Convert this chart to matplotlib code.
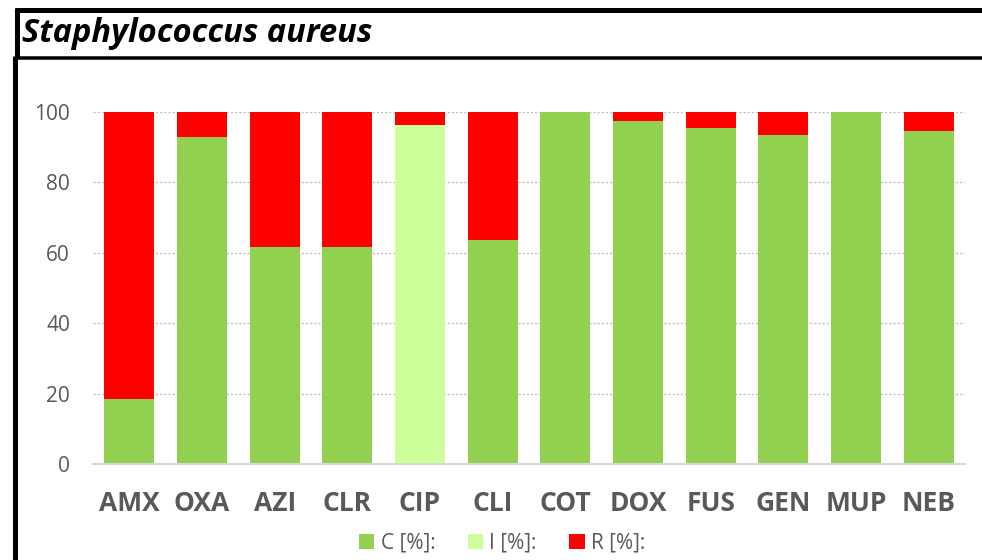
import matplotlib.pyplot as plt
from matplotlib.lines import Line2D
from matplotlib.patches import Patch
import numpy as np

W, H = 982, 560

# データ
drugs = ['AMX', 'OXA', 'AZI', 'CLR', 'CIP', 'CLI', 'COT', 'DOX', 'FUS', 'GEN', 'MUP', 'NEB']
c_pct = [18.5, 92.9, 61.6, 61.6, 0, 63.6, 100, 97.5, 95.5, 93.6, 100, 94.5]
i_pct = [0, 0, 0, 0, 96.3, 0, 0, 0, 0, 0, 0, 0]
r_pct = [81.5, 7.1, 38.4, 38.4, 3.7, 36.4, 0, 2.5, 4.5, 6.4, 0, 5.5]
series_names = ['C [%]:', 'I [%]:', 'R [%]:']
colors = ['#92D050', '#CCFF99', '#FF0000']
yticks = [0, 20, 40, 60, 80, 100]

plt.rcParams['font.family'] = ['Open Sans', 'DejaVu Sans']

fig = plt.figure(figsize=(W / 100, H / 100), dpi=100)

# 枠線 (pixel -> figure座標)
def fx(px):
    return px / W

def fy(py):
    return 1 - py / H

frame = [
    ((17, 17), (8, 58), 5),      # title left
    ((15, 982), (10, 10), 5),    # title top
    ((15, 982), (57.5, 57.5), 3.5),  # title bottom
    ((15, 15), (56, 560), 5),    # chart left
]
for xs, ys, lw in frame:
    fig.add_artist(Line2D([fx(x) for x in xs], [fy(y) for y in ys], color='black',
                          linewidth=lw * 0.72, solid_capstyle='butt'))

fig.text(fx(22), fy(34), 'Staphylococcus aureus', fontsize=23.5, fontweight='bold',
         fontstyle='italic', va='center', ha='left', color='black')

ax = fig.add_axes([fx(93), fy(464), (965 - 93) / W, (464 - 112) / H])
x = np.arange(len(drugs))
bw = 0.69
bottom = np.zeros(len(drugs))
for vals, col in zip([c_pct, i_pct, r_pct], colors):
    ax.bar(x, vals, bw, bottom=bottom, color=col, zorder=3)
    bottom += np.array(vals)

ax.set_xlim(-0.5, len(drugs) - 0.5)
ax.set_ylim(0, 100)
ax.set_yticks(yticks)
ax.set_xticks(x)
ax.set_xticklabels(drugs, fontsize=19, fontweight='bold', color='#595959')
ax.tick_params(axis='y', labelsize=15, labelcolor='#595959', length=0, pad=16.5)
ax.tick_params(axis='x', length=0, pad=19)
ax.grid(axis='y', color='#BFBFBF', linestyle=(0, (1.5, 1.5)), linewidth=1, zorder=0)
for s in ['top', 'right', 'left']:
    ax.spines[s].set_visible(False)
ax.spines['bottom'].set_color('#D9D9D9')
ax.spines['bottom'].set_linewidth(1.5)
ax.spines['bottom'].set_zorder(4)

handles = [Patch(facecolor=c, edgecolor='none') for c in colors]
fig.legend(handles, series_names, loc='center', bbox_to_anchor=(fx(502), fy(543)),
           ncol=3, frameon=False, fontsize=15, labelcolor='#595959',
           handlelength=0.75, handleheight=0.75, handletextpad=0.3, columnspacing=1.55)

fig.savefig('out.png', dpi=100, facecolor='white')
